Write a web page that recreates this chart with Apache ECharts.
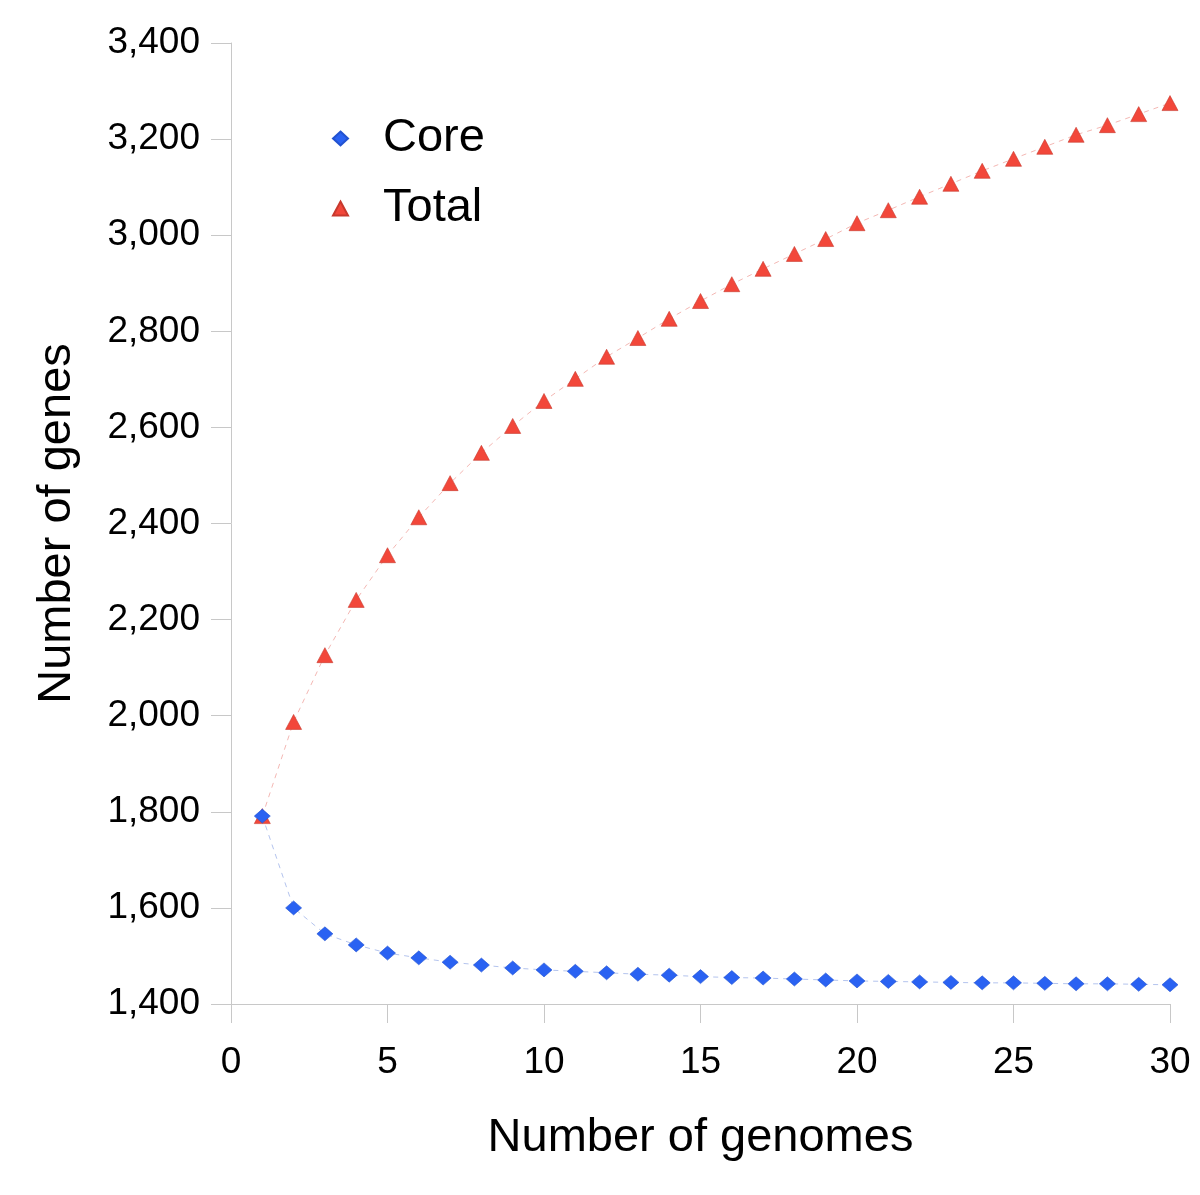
<!DOCTYPE html>
<html><head><meta charset="utf-8">
<script src="https://cdn.jsdelivr.net/npm/echarts@6/dist/echarts.min.js"></script>
<style>html,body{margin:0;padding:0;background:#fff}#c{width:1200px;height:1195px}</style>
</head><body><div id="c"></div>
<script>
const genomes = [1,2,3,4,5,6,7,8,9,10,11,12,13,14,15,16,17,18,19,20,21,22,23,24,25,26,27,28,29,30];
const coreGenes = [1791,1600,1546,1523,1506,1496,1487,1481,1475,1471,1468,1465,1462,1460,1457,1455,1454,1452,1450,1448,1447,1446,1445,1444,1444,1443,1442,1442,1441,1440];
const totalGenes = [1791,1987,2126,2241,2334,2413,2484,2547,2603,2655,2701,2747,2786,2826,2863,2898,2930,2961,2992,3025,3052,3080,3107,3134,3159,3184,3209,3229,3252,3275];
const seriesNames = ['Core','Total'];
const font = 'Liberation Sans, Helvetica, Arial, sans-serif';

const chart = echarts.init(document.getElementById('c'), null, {renderer:'canvas'});
chart.setOption({
  animation:false,
  backgroundColor:'#fff',
  grid:{left:231, right:30, top:43, bottom:191},
  legend:{
    orient:'vertical', left:327, top:110, itemGap:23, itemWidth:15, itemHeight:14,
    textStyle:{fontSize:47, fontFamily:font, color:'#000', padding:[0,0,0,30]},
    data:[{name:seriesNames[0], icon:'diamond', itemStyle:{color:'#2a62f2'}},
          {name:seriesNames[1], icon:'triangle', itemStyle:{color:'#f2473a'}}]
  },
  xAxis:{
    type:'value', min:0, max:30, interval:5,
    name:'Number of genomes', nameLocation:'middle', nameGap:111,
    nameTextStyle:{fontSize:47, fontFamily:font, color:'#000'},
    axisLine:{show:true, lineStyle:{color:'#c8c8c8', width:1}},
    axisTick:{show:true, length:19, lineStyle:{color:'#c8c8c8'}},
    axisLabel:{fontSize:37, fontFamily:font, color:'#000', margin:40},
    splitLine:{show:false}
  },
  yAxis:{
    type:'value', min:1400, max:3400, interval:200,
    name:'Number of genes', nameLocation:'middle', nameGap:150, nameRotate:90,
    nameTextStyle:{fontSize:47, fontFamily:font, color:'#000'},
    axisLine:{show:true, lineStyle:{color:'#c8c8c8', width:1}},
    axisTick:{show:true, length:20, lineStyle:{color:'#c8c8c8'}},
    axisLabel:{fontSize:37, fontFamily:font, color:'#000', margin:31,
      formatter:v=>v.toLocaleString('en-US')},
    splitLine:{show:false}
  },
  series:[
    {name:seriesNames[1], type:'line', z:2,
     data:genomes.map((g,i)=>[g,totalGenes[i]]),
     symbol:'triangle', symbolSize:[16,15],
     itemStyle:{color:'#f2473a', borderColor:'#c8392d', borderWidth:0.6},
     lineStyle:{color:'#f4b8b4', width:1, type:[5,5]}},
    {name:seriesNames[0], type:'line', z:3,
     data:genomes.map((g,i)=>[g,coreGenes[i]]),
     symbol:'diamond', symbolSize:[16,14],
     itemStyle:{color:'#2a62f2', borderColor:'#2252d0', borderWidth:0.6},
     lineStyle:{color:'#b4c4ee', width:1, type:[5,5]}}
  ]
});
</script></body></html>
